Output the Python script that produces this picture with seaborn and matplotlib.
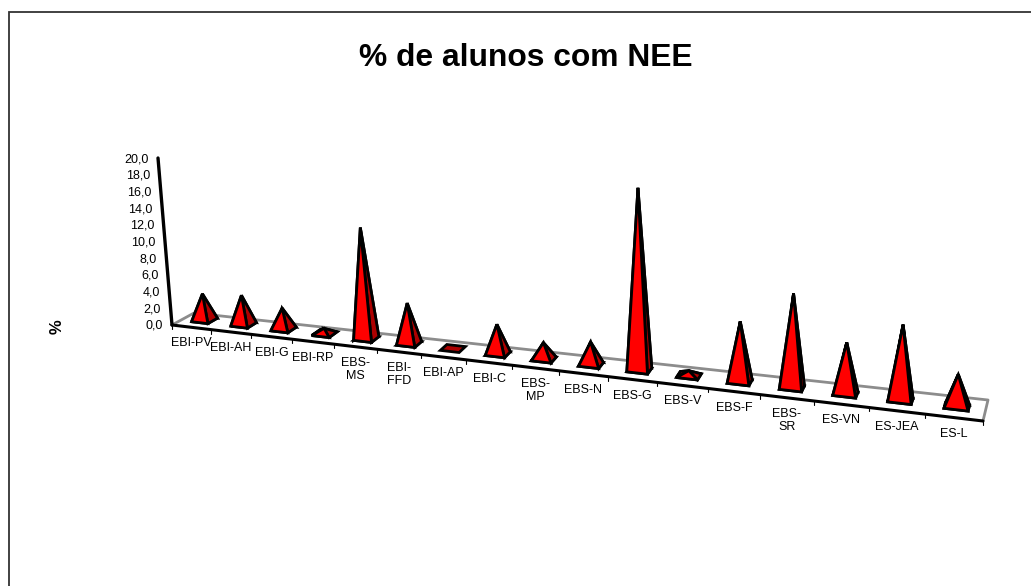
import numpy as np
import pandas as pd
import matplotlib
matplotlib.use("Agg")
import matplotlib.pyplot as plt
import seaborn as sns

# --- data ---
schools = ["EBI-PV", "EBI-AH", "EBI-G", "EBI-RP", "EBS-\nMS", "EBI-\nFFD", "EBI-AP", "EBI-C",
           "EBS-\nMP", "EBS-N", "EBS-G", "EBS-V", "EBS-F", "EBS-\nSR", "ES-VN", "ES-JEA", "ES-L"]
pct_nee = [3.1, 3.4, 2.4, 0.6, 12.3, 4.4, 0.05, 3.1, 1.7, 2.3, 18.4, 0.5, 5.9, 9.1, 4.9, 7.1, 3.0]
y_ticks = [0, 2, 4, 6, 8, 10, 12, 14, 16, 18, 20]

# --- 3D look: floor corners in pixels, Excel style perspective ---
FRONT_L, FRONT_R = np.array([172.0, 325.0]), np.array([983.0, 421.0])
DEPTH_L, DEPTH_R = np.array([22.0, -12.0]), np.array([5.0, -21.0])
TOP = np.array([158.0, 158.0])
PX_PER_UNIT = 8.35
B_PERSP = 0.011   # categories get wider towards the right
HALF_W = 0.21
Z_FRONT = 0.38


def along(u):
    """0..1 position along the front axis for a category position"""
    return u * (1 - 17 * B_PERSP) / 17 / (1 - B_PERSP * u)


def project(u, z, val=0.0):
    """category position, depth and value -> pixel position on the figure"""
    s = along(u)
    p = FRONT_L + s * (FRONT_R - FRONT_L) + z * (DEPTH_L + s * (DEPTH_R - DEPTH_L))
    h = val * PX_PER_UNIT * (1 + 0.3 * u / 17)
    lean = -0.084 + 0.135 * s  # verticals converge downwards
    return p[0] + h * lean, p[1] - h


sns.set_theme(style="white")
plt.rcParams["font.family"] = ["Liberation Sans", "DejaVu Sans"]

fig = plt.figure(figsize=(10.31, 5.86), dpi=100)
ax = fig.add_axes([0, 0, 1, 1])
ax.set_xlim(0, 1031)
ax.set_ylim(586, 0)
ax.axis("off")

# chart frame, cut off by the image on the right and at the bottom
ax.plot([9, 9, 1031], [586, 12, 12], color="#333333", lw=1.3, solid_joinstyle="miter")

# floor, grey back edges
floor = pd.DataFrame([project(0, 0), project(0, 1), project(17, 1), project(17, 0)], columns=["x", "y"])
sns.lineplot(data=floor, x="x", y="y", sort=False, estimator=None, color="#8c8c8c", lw=2, ax=ax, legend=False)

# front axis with its ticks
front = pd.DataFrame([project(0, 0), project(17, 0)], columns=["x", "y"])
sns.lineplot(data=front, x="x", y="y", sort=False, estimator=None, color="black", lw=2.2, ax=ax, legend=False)
for i in range(18):
    x, y = project(i, 0)
    ax.plot([x, x], [y, y + 4], color="black", lw=0.8)

# value axis
val_axis = pd.DataFrame([FRONT_L, TOP], columns=["x", "y"])
sns.lineplot(data=val_axis, x="x", y="y", sort=False, estimator=None, color="black", lw=2.4, ax=ax, legend=False)
for v in y_ticks:
    x, y = FRONT_L + v / y_ticks[-1] * (TOP - FRONT_L)
    ax.text(x - 9.5, y + 1, f"{v:.1f}".replace(".", ","), ha="right", va="center", fontsize=9, color="black")

# pyramids, left to right so the nearer ones sit on top
RED, DARK = "#ff0000", "#ad0000"
for i, val in enumerate(pct_nee):
    c = i + 0.5
    span = 0.45 - 0.17 * along(c)
    fl = project(c - HALF_W, Z_FRONT)
    fr = project(c + HALF_W, Z_FRONT)
    br = project(c + HALF_W, Z_FRONT + span)
    bl = project(c - HALF_W, Z_FRONT + span)
    apex = project(c, Z_FRONT + span / 2, val)
    faces = [([fl, fr, br, bl], DARK)]
    if val >= 0.1:  # nearly empty bars only show their base
        faces += [([bl, br, apex], DARK), ([fl, bl, apex], RED),
                  ([fr, br, apex], DARK), ([fl, fr, apex], RED)]
    for pts, col in faces:
        ax.fill(*zip(*pts), facecolor=col, edgecolor="black", lw=2, joinstyle="miter", zorder=3 + i * 0.01)

# category labels below the front axis
for i, name in enumerate(schools):
    x, y = project(i + 0.5, 0)
    ax.text(x, y + 10, name, ha="center", va="top", fontsize=9, color="black", linespacing=1.15)

ax.text(526, 58, "% de alunos com NEE", ha="center", va="center", fontsize=22.9, fontweight="bold", color="black")
ax.text(57, 327, "%", rotation=90, ha="center", va="center", fontsize=12, fontweight="bold", color="black")

fig.savefig("out.png", dpi=100)
